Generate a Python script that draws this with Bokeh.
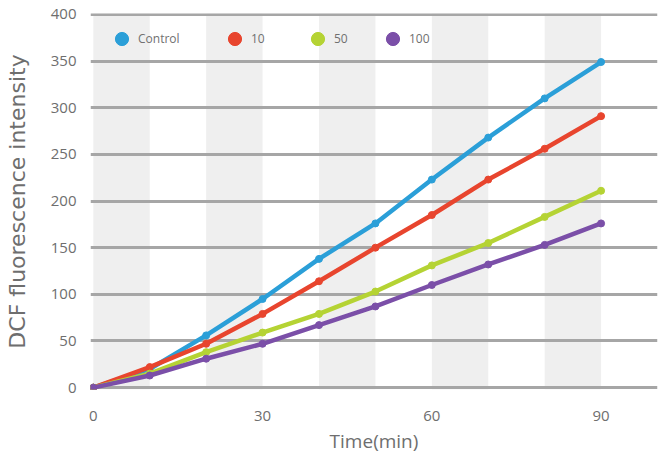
from bokeh.plotting import figure
from bokeh.models import Legend, LegendItem, SingleIntervalTicker, FixedTicker, Range1d
from bokeh.embed import file_html
from bokeh.resources import INLINE

# ---- data ----
time_min = [0, 10, 20, 30, 40, 50, 60, 70, 80, 90]
control = [0, 20, 56, 95, 138, 176, 223, 268, 310, 349]
conc_10 = [0, 22, 47, 79, 114, 150, 185, 223, 256, 291]
conc_50 = [0, 15, 38, 59, 79, 103, 131, 155, 183, 211]
conc_100 = [0, 13, 31, 47, 67, 87, 110, 132, 153, 176]
series_names = ["Control", "10", "50", "100"]
y_ticks = [0, 50, 100, 150, 200, 250, 300, 350, 400]
x_ticks = [0, 30, 60, 90]

series = [control, conc_10, conc_50, conc_100]
colors = ["#2b9fd8", "#e8452e", "#b5d334", "#7b4fa8"]
legend_x = [15, 128, 211, 286]

FONT = "Open Sans"
TXT = "#6e6e6e"

p = figure(width=658, height=456, output_backend="svg", toolbar_location=None,
           x_range=Range1d(-0.5, 100), y_range=Range1d(-2, 401),
           min_border_left=90, min_border_right=1, min_border_top=13,
           min_border_bottom=66)
p.outline_line_color = None
p.background_fill_color = "white"

# grids
p.xgrid.ticker = SingleIntervalTicker(interval=10)
p.xgrid.grid_line_color = None
p.xgrid.band_fill_color = "#efefef"
p.xgrid.band_fill_alpha = 1.0
p.ygrid.ticker = FixedTicker(ticks=y_ticks)
p.ygrid.grid_line_color = "#a6a6a6"
p.ygrid.grid_line_width = 3

# axes
p.xaxis.ticker = FixedTicker(ticks=x_ticks)
p.yaxis.ticker = FixedTicker(ticks=y_ticks)
for ax in (p.xaxis[0], p.yaxis[0]):
    ax.axis_line_color = None
    ax.major_tick_line_color = None
    ax.minor_tick_line_color = None
    ax.major_label_text_font = FONT
    ax.major_label_text_color = TXT
    ax.major_label_text_font_size = "15px"
    ax.axis_label_text_color = TXT
    ax.axis_label_text_font_style = "normal"
p.xaxis.axis_label = "Time(min)"
p.yaxis.axis_label = "DCF fluorescence intensity"
p.xaxis.axis_label_text_font = FONT
p.yaxis.axis_label_text_font = "DejaVu Sans"
p.xaxis.axis_label_text_font_size = "19px"
p.yaxis.axis_label_text_font_size = "22px"
p.xaxis.major_label_standoff = 15
p.yaxis.major_label_standoff = 8
p.xaxis.axis_label_standoff = 4
p.yaxis.axis_label_standoff = 18

for name, vals, col, lx in zip(series_names, series, colors, legend_x):
    p.line(time_min, vals, line_width=4.5, line_color=col, line_cap="round",
           line_join="round")
    p.scatter(time_min, vals, size=7, fill_color=col, line_color=col)
    key = p.scatter(time_min, vals, size=13, fill_color=col, line_color=col,
                    visible=False)
    leg = Legend(items=[LegendItem(label=name, renderers=[key])],
                 location=(lx, 334), orientation="horizontal",
                 background_fill_alpha=0, border_line_color=None,
                 label_text_font=FONT, label_text_font_size="12px",
                 label_text_color="#707070", glyph_width=33, glyph_height=33,
                 padding=0, margin=0, label_standoff=-5, spacing=0,
                 inactive_fill_alpha=0)
    p.add_layout(leg)

open("out.html", "w").write(file_html(p, INLINE))
